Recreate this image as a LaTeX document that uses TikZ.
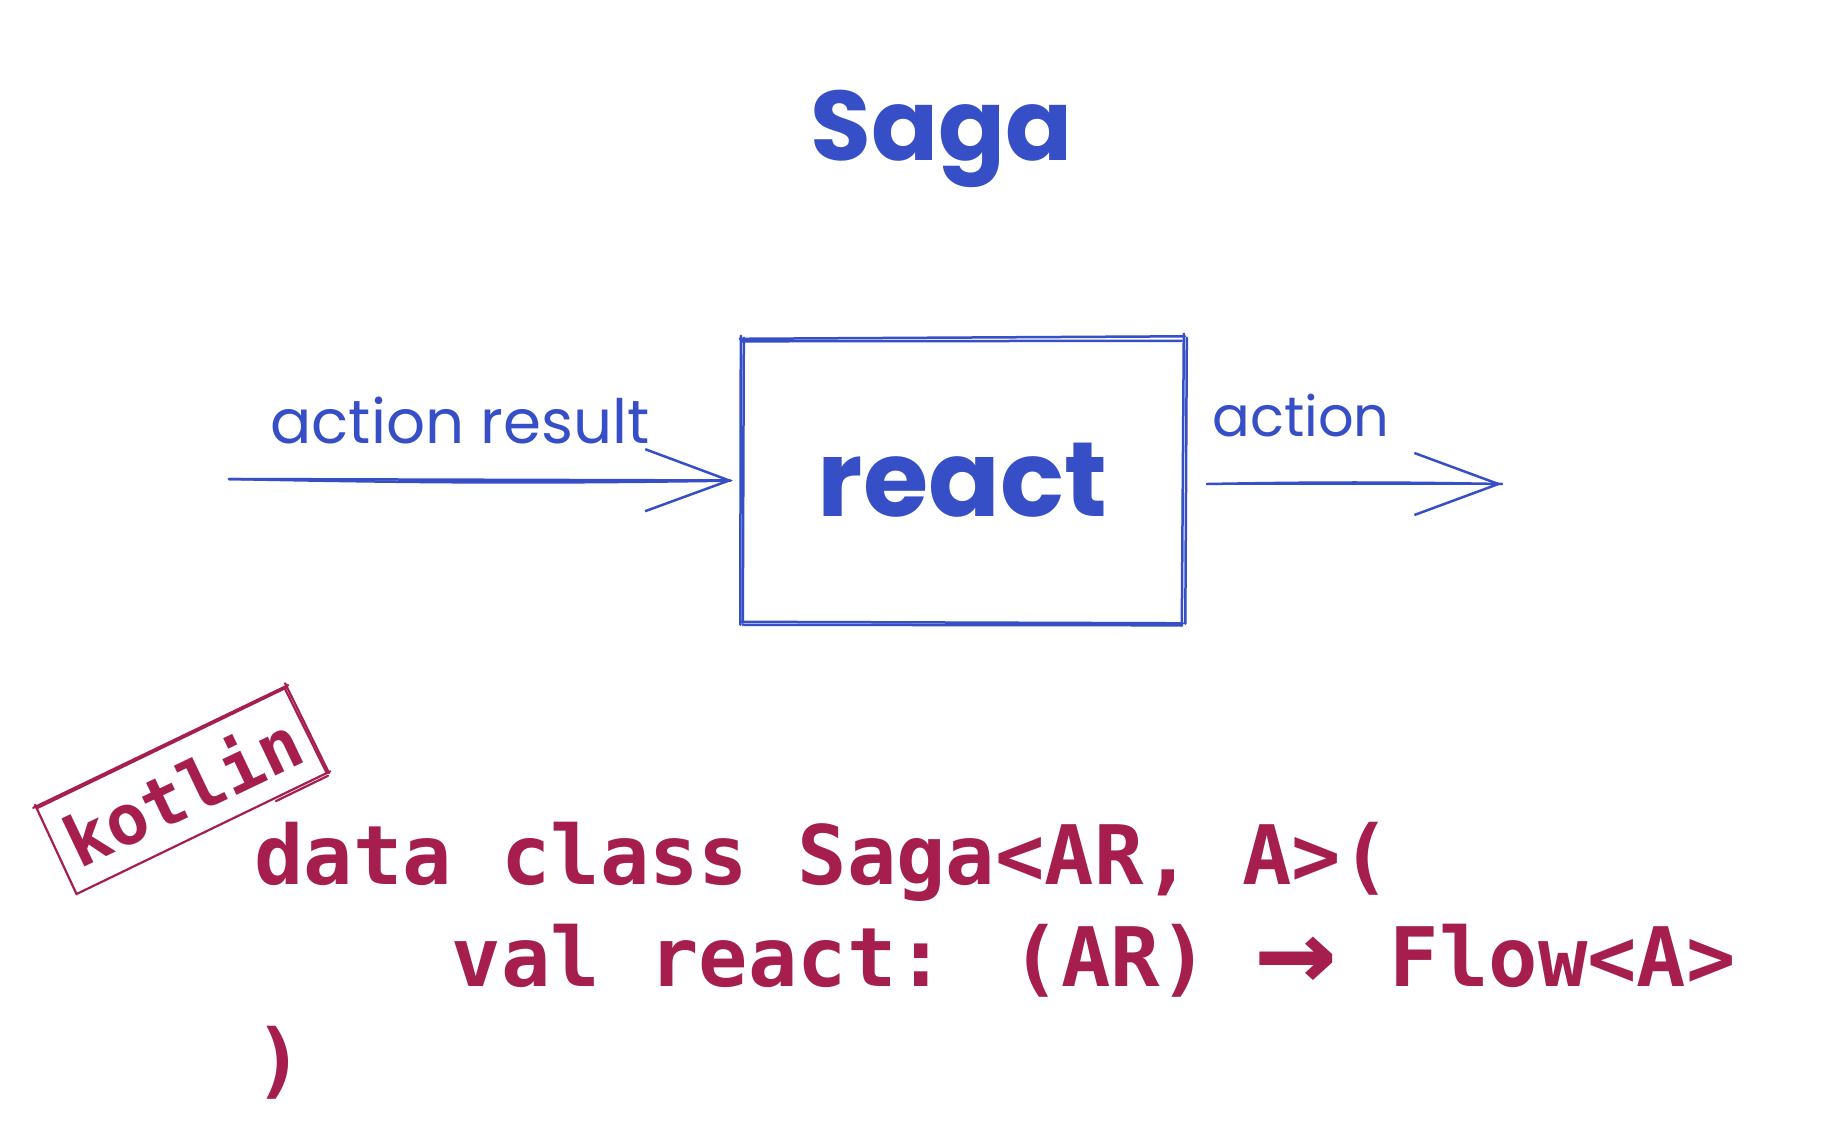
\documentclass[tikz,border=0pt]{standalone}
\usepackage{fontspec}
\usepackage{graphicx}
\usetikzlibrary{arrows.meta}
\setmainfont{Poppins}
\newfontfamily\handfont{Poppins}
\newfontfamily\codefont{DejaVu Sans Mono}
\definecolor{sketchblue}{HTML}{364FC7}
\definecolor{coderuby}{HTML}{A61E4D}
\newlength\cellw
\setlength\cellw{49.4pt}
\newcommand\handtxt[2]{\resizebox{#1}{!}{\handfont #2}}
\newcommand\codesize{\codefont\bfseries\fontsize{82.06pt}{100pt}\selectfont}
\newcommand\kotsize{\codefont\bfseries\fontsize{70pt}{84pt}\selectfont}
\tikzset{
  sk/.style={draw=sketchblue, line width=2.5pt, line cap=round, line join=round},
  skr/.style={draw=coderuby, line width=2.2pt, line cap=round, line join=round},
  barb/.style={-{Straight Barb[length=84pt,width=62pt,line width=2.5pt]}},
  handlabel/.style={text=sketchblue, inner sep=0pt, anchor=base},
  codeline/.style={text=coderuby, inner sep=0pt, anchor=base west, font=\codesize},
}
\begin{document}
\begin{tikzpicture}[x=1pt,y=-1pt]
\fill[white] (0,0) rectangle (1829,1127);
\useasboundingbox (0,0) rectangle (1829,1127);

% title
\node[handlabel] (saga) at (942,160) {\handtxt{262pt}{\bfseries Saga}};

% box with react
\node[inner sep=0pt, minimum width=441pt, minimum height=285pt, text=sketchblue] (box) at (962.5,480.5) {\handtxt{289pt}{\bfseries react}};
\begin{scope}[shift={(box.north west)}]
  \draw[sk] (-2,1) -- (443,-1.5);
  \draw[sk] (0,3.5) -- (440,3);
  \draw[sk] (442,-4) -- (440,288);
  \draw[sk] (445,0) -- (443.5,286);
  \draw[sk] (-1,284) -- (441,285.5);
  \draw[sk] (1,287) -- (439,287.5);
  \draw[sk] (-1,-2) -- (-1.5,287);
  \draw[sk] (2,0) -- (1,285);
\end{scope}

% labels
\node[handlabel] (lblin) at (460,443) {\handtxt{379pt}{action result}};
\node[handlabel] (lblout) at (1301,436) {\handtxt{177pt}{action}};

% arrows
\coordinate (inL) at (229,479);
\coordinate (outS) at (1207,484);
\coordinate (outR) at (1502,484);
\draw[sk, barb, shorten >=9pt] (inL) -- (box.west);
\draw[sk, shorten >=11pt] (inL) to[bend right=1] (box.west);
\draw[sk, barb] (outS) -- (outR);
\draw[sk] (outS) to[bend left=1] (outR);

% kotlin tag
\node[rotate=25.5, inner sep=0pt, minimum width=278pt, minimum height=96pt, text=coderuby, font=\kotsize] (kt) at (182,790) {kotlin};
\begin{scope}[shift={(kt.center)}, rotate=25.5]
  \draw[skr] (-142,-48) -- (141,-49);
  \draw[skr] (-139,-46) -- (138,-47.5);
  \draw[skr] (139,-52) -- (140,48);
  \draw[skr] (136.5,-47) -- (138,47);
  \draw[skr] (142,47) -- (-139,48.5);
  \draw[skr] (138,50) -- (80,50.5);
  \draw[skr] (-139,-50) -- (-140,49);
\end{scope}

% code
\node[codeline] (code1) at (254,884) {data class Saga<AR, A>(};
\node[codeline] (code2) at (451.6,986) {val react: (AR)\hspace{\dimexpr\cellw-12pt\relax}\makebox[2\cellw]{\raisebox{-6pt}{\scalebox{1.65}[1.5]{→}}}\hspace{\dimexpr\cellw-5pt\relax}Flow<A>};
\node[codeline] (code3) at (254,1088) {)};
\end{tikzpicture}
\end{document}
